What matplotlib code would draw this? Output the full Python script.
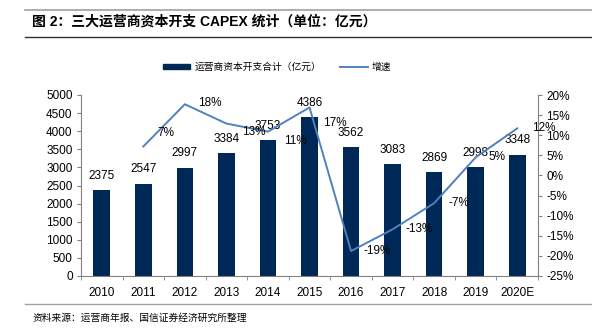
import numpy as np
import matplotlib
matplotlib.use('Agg')
import matplotlib.pyplot as plt
from matplotlib.lines import Line2D
from matplotlib.patches import Patch

plt.rcParams['font.family'] = ['Liberation Sans', 'Noto Sans CJK SC', 'DejaVu Sans']

years = ['2010', '2011', '2012', '2013', '2014', '2015', '2016', '2017', '2018', '2019', '2020E']
capex = [2375, 2547, 2997, 3384, 3753, 4386, 3562, 3083, 2869, 2998, 3348]
growth = [np.nan, 7.2, 17.7, 12.9, 10.9, 16.9, -18.8, -13.4, -6.9, 4.5, 11.7]
growth_labels = ['', '7%', '18%', '13%', '11%', '17%', '-19%', '-13%', '-7%', '5%', '12%']

# label offsets in points (dx, dy)
lab_off = [(0, 0), (16, 10), (18, 1), (20, -6), (20, -7), (18, -11),
           (19, 0), (19, 0), (18, 0), (15, 0), (19, 0)]

bar_color = '#002856'
line_color = '#4f81bd'
axis_color = '#808080'

fig = plt.figure(figsize=(5.92, 3.29), dpi=100)

# header / footer lines and text
fig.add_artist(Line2D([25 / 592, 1], [1 - 10 / 329] * 2, color='#a0a0a0', lw=1.2))
fig.add_artist(Line2D([25 / 592, 1], [1 - 37 / 329] * 2, color='#303030', lw=1.0))
fig.add_artist(Line2D([25 / 592, 1], [1 - 304 / 329] * 2, color='#a0a0a0', lw=1.0))
fig.text(32 / 592, 1 - 22 / 329, '图 2：三大运营商资本开支 CAPEX 统计（单位：亿元）',
         fontsize=10, fontweight='bold', va='center', ha='left',
         family=['Liberation Sans', 'Noto Sans CJK SC'])
fig.text(33 / 592, 1 - 318 / 329, '资料来源：运营商年报、国信证券经济研究所整理',
         fontsize=7, va='center', ha='left', family=['Noto Sans CJK SC'])

ax = fig.add_axes([81 / 592, 1 - 276 / 329, 457 / 592, 181 / 329])
x = np.arange(len(years))
bars = ax.bar(x, capex, width=0.4, color=bar_color, zorder=2)
ax.set_xlim(-0.5, len(years) - 0.5)
ax.set_ylim(0, 5000)
ax.set_yticks(np.arange(0, 5001, 500))
ax.set_xticks(x)
ax.set_xticklabels(years)
ax.set_xticks(np.arange(-0.5, len(years)), minor=True)
ax.tick_params(axis='x', which='major', length=0, pad=8, labelsize=8.5)
ax.tick_params(axis='x', which='minor', length=3, color=axis_color, direction='out')
ax.tick_params(axis='y', length=3, color=axis_color, labelsize=8.5, pad=3)
for s in ['top', 'right']:
    ax.spines[s].set_visible(False)
for s in ['left', 'bottom']:
    ax.spines[s].set_color(axis_color)

for xi, v in zip(x, capex):
    ax.annotate(str(v), (xi, v), xytext=(0, 6), textcoords='offset points',
                ha='center', va='bottom', fontsize=8.5)

ax2 = ax.twinx()
ax2.plot(x, growth, color=line_color, lw=1.4, zorder=3)
ax2.set_ylim(-25, 20)
ax2.set_yticks(np.arange(-25, 21, 5))
ax2.set_yticklabels([f'{t}%' for t in range(-25, 21, 5)])
ax2.tick_params(axis='y', length=3, color=axis_color, labelsize=8.5, pad=3)
for s in ['top', 'left', 'bottom']:
    ax2.spines[s].set_visible(False)
ax2.spines['right'].set_color(axis_color)

for xi, v, lab, off in zip(x, growth, growth_labels, lab_off):
    if lab:
        ax2.annotate(lab, (xi, v), xytext=off, textcoords='offset points',
                     ha='center', va='center', fontsize=8.5)

handles = [Patch(color=bar_color), Line2D([], [], color=line_color, lw=1.4)]
fig.legend(handles, ['运营商资本开支合计（亿元）', '增速'], loc='center',
           bbox_to_anchor=(277 / 592, 1 - 67 / 329), ncol=2, frameon=False,
           prop={'family': ['Noto Sans CJK SC'], 'size': 7},
           handlelength=2.8, handleheight=0.5, columnspacing=2.0, handletextpad=0.4)

fig.savefig('out.png', dpi=100)
